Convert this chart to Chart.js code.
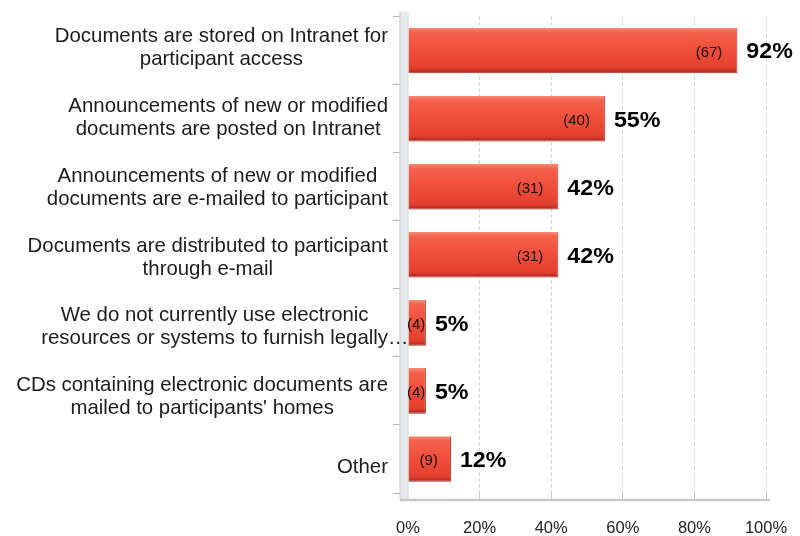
<!DOCTYPE html>
<html>
<head>
<meta charset="utf-8">
<script src="https://cdn.jsdelivr.net/npm/chart.js@4.4.1/dist/chart.umd.min.js"></script>
<style>
  html, body { margin: 0; padding: 0; background: #ffffff; }
  #wrap { width: 800px; height: 536px; }
</style>
</head>
<body>
<div id="wrap"><canvas id="c" width="800" height="536"></canvas></div>
<script>
// ---- data ----
const categories = [
  ["Documents are stored on Intranet for", "participant access"],
  ["Announcements of new or modified", "documents are posted on Intranet"],
  ["Announcements of new or modified", "documents are e-mailed to participant"],
  ["Documents are distributed to participant", "through e-mail"],
  ["We do not currently use electronic", "resources or systems to furnish legally\u2026"],
  ["CDs containing electronic documents are", "mailed to participants' homes"],
  ["Other"]
];
const percentValues = [92, 55, 42, 42, 5, 5, 12];
const respondentCounts = [67, 40, 31, 31, 4, 4, 9];
const xTickLabels = ["0%", "20%", "40%", "60%", "80%", "100%"];

const FONT = "'Liberation Sans', Arial, sans-serif";

function barGradient(ctx) {
  const chart = ctx.chart;
  const area = chart.chartArea;
  if (!area) return '#ef4b39';
  const y = chart.scales.y.getPixelForValue(ctx.dataIndex);
  const h = 46;
  const g = chart.ctx.createLinearGradient(0, y - h / 2, 0, y + h / 2);
  g.addColorStop(0, '#f8907e');
  g.addColorStop(0.1, '#f4624d');
  g.addColorStop(0.5, '#f04d3a');
  g.addColorStop(0.88, '#e43f2f');
  g.addColorStop(1, '#a3271d');
  return g;
}

const wallPlugin = {
  id: 'wall',
  beforeDatasetsDraw(chart) {
    const {ctx, chartArea: a} = chart;
    ctx.save();
    ctx.fillStyle = '#e6eaec';
    ctx.fillRect(a.left - 8, a.top - 5, 9, a.bottom - a.top + 12);
    ctx.strokeStyle = '#c3c9cd';
    ctx.lineWidth = 1;
    ctx.beginPath();
    ctx.moveTo(a.left - 8, a.top - 5);
    ctx.lineTo(a.left - 8, a.bottom + 7);
    ctx.stroke();
    // floor
    ctx.strokeStyle = '#c8c8c8';
    ctx.lineWidth = 2.5;
    ctx.beginPath();
    ctx.moveTo(a.left - 8, a.bottom + 7);
    ctx.lineTo(a.right + 4, a.bottom + 7);
    ctx.stroke();
    ctx.restore();
  }
};

const labelPlugin = {
  id: 'labels',
  afterDraw(chart) {
    const {ctx} = chart;
    const yScale = chart.scales.y;
    const meta = chart.getDatasetMeta(0);
    ctx.save();
    // category labels, each block right-aligned, lines centred inside the block
    ctx.font = "20.4px " + FONT;
    ctx.fillStyle = '#1c1c1c';
    ctx.textAlign = 'center';
    ctx.textBaseline = 'middle';
    const right = 388, lh = 23;
    categories.forEach((lines, i) => {
      const yb = yScale.getPixelForValue(i);
      const yc = yb * 1.0257 - 3.8;
      let maxW = 0;
      lines.forEach(l => { maxW = Math.max(maxW, ctx.measureText(l.replace(/\u2026$/, '')).width); });
      const cx = right - maxW / 2;
      lines.forEach((l, k) => {
        const yy = yc - (lines.length - 1) * lh / 2 + k * lh;
        if (/\u2026$/.test(l)) {
          ctx.textAlign = 'left';
          ctx.fillText(l, cx - ctx.measureText(l.replace(/\u2026$/, '')).width / 2, yy);
          ctx.textAlign = 'center';
        } else {
          ctx.fillText(l, cx, yy);
        }
      });
    });
    // value labels
    meta.data.forEach((bar, i) => {
      const end = bar.x, base = bar.base, y = bar.y + 2;
      const w = end - base;
      ctx.font = "15px " + FONT;
      ctx.fillStyle = '#111';
      const cTxt = '(' + respondentCounts[i] + ')';
      if (w < 60) {
        ctx.textAlign = 'center';
        ctx.fillText(cTxt, base + w / 2 - 1, y);
      } else {
        ctx.textAlign = 'right';
        ctx.fillText(cTxt, end - 15, y);
      }
      ctx.save();
      ctx.translate(end + 9, y);
      ctx.scale(1.08, 1);
      ctx.font = "bold 21.5px " + FONT;
      ctx.fillStyle = '#000';
      ctx.textAlign = 'left';
      ctx.fillText(percentValues[i] + '%', 0, 0);
      ctx.restore();
    });
    ctx.restore();
  }
};

new Chart(document.getElementById('c'), {
  type: 'bar',
  data: {
    labels: categories,
    datasets: [{
      data: percentValues,
      backgroundColor: barGradient,
      borderColor: '#b83024',
      borderWidth: {top: 0, left: 0, right: 1, bottom: 1},
      categoryPercentage: 1,
      barPercentage: 0.67
    }]
  },
  options: {
    indexAxis: 'y',
    responsive: false,
    animation: false,
    devicePixelRatio: 1,
    layout: { padding: { top: 16.5, right: 34, left: 0, bottom: 0 } },
    plugins: { legend: { display: false }, tooltip: { enabled: false } },
    scales: {
      x: {
        min: 0, max: 100,
        ticks: {
          stepSize: 20,
          callback: (v, i) => xTickLabels[i],
          font: { family: FONT, size: 16.5 },
          color: '#222',
          padding: 19,
          maxRotation: 0
        },
        grid: {
          color: '#cbcbcb',
          lineWidth: 1,
          tickLength: 7,
          tickColor: '#c8c8c8'
        },
        border: { display: false, dash: [3, 3] },
        afterFit(scale) { scale.height = 43; scale.paddingLeft = 0; scale.paddingRight = 0; }
      },
      y: {
        ticks: { display: false },
        grid: {
          drawOnChartArea: false,
          drawTicks: true,
          tickLength: 15,
          tickColor: '#b5b5b5',
          offset: true
        },
        border: { display: false },
        afterFit(scale) { scale.width = 408; }
      }
    }
  },
  plugins: [wallPlugin, labelPlugin]
});
</script>
</body>
</html>
